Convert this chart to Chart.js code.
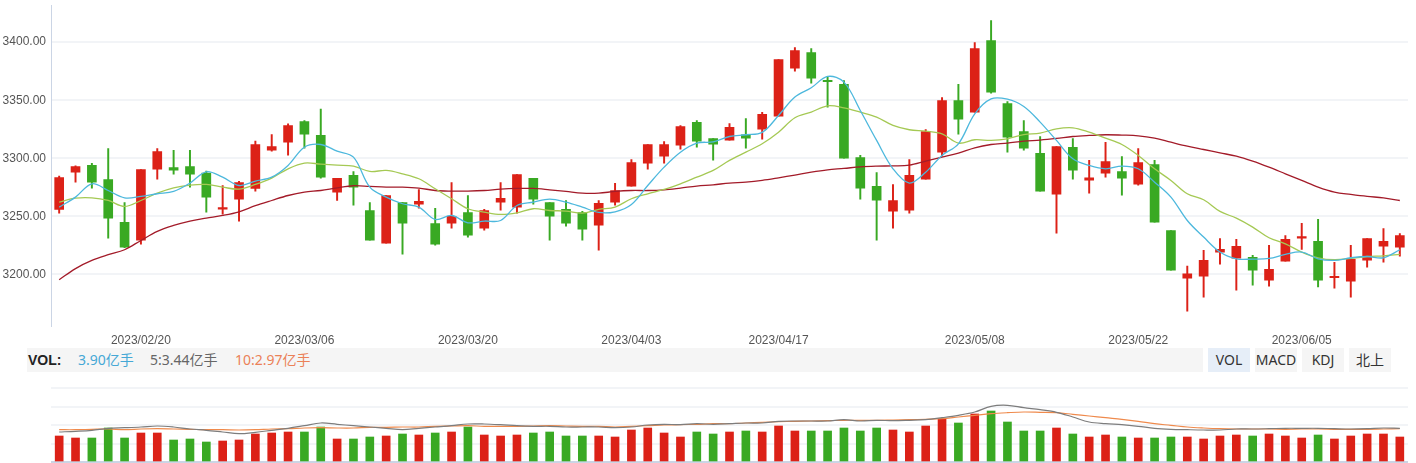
<!DOCTYPE html>
<html>
<head>
<meta charset="utf-8">
<script src="https://cdn.jsdelivr.net/npm/chart.js@4.4.1/dist/chart.umd.min.js"></script>
<style>
  body { margin: 0; background: #fff; font-family: "Noto Sans", "Noto Sans CJK SC", sans-serif; }
  #wrap { position: relative; width: 1416px; height: 463px; overflow: hidden; }
  #kline { position: absolute; left: 0; top: 0; }
  #vol { position: absolute; left: 0; top: 380px; }
  #volbar { position: absolute; left: 27px; top: 348px; width: 1176px; height: 24px; background: #f5f5f5; font-size: 14px; line-height: 24px; }
  #volbar span { position: absolute; top: 0; white-space: nowrap; }
  .btn { position: absolute; top: 348px; width: 42px; height: 24px; line-height: 24px; text-align: center; font-size: 14px; color: #333; background: #f5f5f5; }
</style>
</head>
<body>
<div id="wrap">
  <canvas id="kline" width="1416" height="348"></canvas>
  <div id="volbar">
    <span style="left:1px;font-weight:bold;color:#222;font-family:'Liberation Sans',Arial,sans-serif">VOL:</span>
    <span style="left:51px;color:#45a8d6">3.90亿手</span>
    <span style="left:123px;color:#666">5:3.44亿手</span>
    <span style="left:208px;color:#eb8158">10:2.97亿手</span>
  </div>
  <div class="btn" style="left:1208px;background:#e6eef8">VOL</div>
  <div class="btn" style="left:1255px">MACD</div>
  <div class="btn" style="left:1302px">KDJ</div>
  <div class="btn" style="left:1349px">北上</div>
  <canvas id="vol" width="1416" height="83"></canvas>
</div>
<script>
// trading days shown
var dates = ['2023/02/13','2023/02/14','2023/02/15','2023/02/16','2023/02/17',
  '2023/02/20','2023/02/21','2023/02/22','2023/02/23','2023/02/24',
  '2023/02/27','2023/02/28','2023/03/01','2023/03/02','2023/03/03',
  '2023/03/06','2023/03/07','2023/03/08','2023/03/09','2023/03/10',
  '2023/03/13','2023/03/14','2023/03/15','2023/03/16','2023/03/17',
  '2023/03/20','2023/03/21','2023/03/22','2023/03/23','2023/03/24',
  '2023/03/27','2023/03/28','2023/03/29','2023/03/30','2023/03/31',
  '2023/04/03','2023/04/04','2023/04/06','2023/04/07',
  '2023/04/10','2023/04/11','2023/04/12','2023/04/13','2023/04/14',
  '2023/04/17','2023/04/18','2023/04/19','2023/04/20','2023/04/21',
  '2023/04/24','2023/04/25','2023/04/26','2023/04/27','2023/04/28',
  '2023/05/04','2023/05/05',
  '2023/05/08','2023/05/09','2023/05/10','2023/05/11','2023/05/12',
  '2023/05/15','2023/05/16','2023/05/17','2023/05/18','2023/05/19',
  '2023/05/22','2023/05/23','2023/05/24','2023/05/25','2023/05/26',
  '2023/05/29','2023/05/30','2023/05/31','2023/06/01','2023/06/02',
  '2023/06/05','2023/06/06','2023/06/07','2023/06/08','2023/06/09',
  '2023/06/12','2023/06/13'];
var tickDates = ['2023/02/20','2023/03/06','2023/03/20','2023/04/03','2023/04/17','2023/05/08','2023/05/22','2023/06/05'];

var open = [3256.0,3288.1,3293.9,3281.8,3244.8,3229.6,3290.7,3292.1,3293.0,3287.3,
  3256.3,3264.9,3274.0,3307.1,3313.9,3331.7,3319.7,3270.9,3285.3,3255.1,
  3227.0,3262.0,3260.6,3243.9,3244.2,3253.4,3239.9,3262.3,3258.0,3282.7,
  3262.0,3256.0,3253.4,3242.5,3262.3,3276.1,3295.9,3301.9,3311.4,3330.9,
  3317.1,3315.7,3320.3,3325.1,3336.3,3377.6,3391.1,3366.2,3363.6,3300.7,
  3275.8,3254.6,3255.4,3282.1,3305.3,3349.8,3339.8,3401.4,3347.2,3323.1,
  3304.2,3269.2,3309.4,3281.2,3287.3,3288.7,3277.8,3294.7,3237.9,3196.9,
  3198.6,3219.3,3214.1,3214.7,3195.2,3211.5,3231.3,3228.5,3197.2,3194.3,
  3212.4,3224.4,3223.6];
var close = [3283.5,3293.0,3279.5,3248.5,3223.6,3290.4,3305.9,3289.8,3286.4,3266.6,
  3257.7,3279.2,3311.9,3310.2,3328.3,3320.8,3283.8,3282.7,3275.2,3229.6,
  3268.0,3244.2,3262.9,3226.2,3250.0,3233.9,3255.1,3265.5,3286.1,3264.9,
  3250.3,3244.2,3239.1,3261.2,3272.3,3296.4,3311.9,3311.9,3327.4,3314.8,
  3312.2,3326.6,3317.4,3337.8,3385.1,3392.8,3369.0,3365.9,3300.2,3274.4,
  3264.0,3263.7,3285.3,3323.1,3349.8,3333.7,3394.5,3357.0,3318.2,3308.8,
  3271.8,3310.2,3289.8,3283.2,3297.3,3282.9,3296.4,3245.1,3203.8,3200.6,
  3212.1,3221.6,3224.2,3203.8,3204.4,3230.2,3231.9,3195.2,3197.8,3213.0,
  3231.0,3228.5,3233.6];
var high = [3284.7,3293.5,3295.6,3308.5,3262.0,3290.4,3308.5,3306.8,3306.8,3289.0,
  3276.6,3280.1,3314.8,3320.5,3329.7,3332.6,3342.3,3282.7,3288.7,3262.0,
  3268.0,3262.0,3273.2,3256.9,3279.2,3268.0,3256.0,3279.2,3286.1,3282.7,
  3262.0,3263.7,3254.3,3263.7,3278.4,3299.0,3311.9,3314.5,3328.3,3332.6,
  3317.1,3330.0,3334.3,3339.5,3385.1,3395.4,3394.5,3370.5,3367.0,3302.5,
  3287.8,3277.5,3299.0,3324.8,3352.4,3363.6,3399.7,3418.6,3348.9,3332.6,
  3318.8,3310.2,3317.1,3298.2,3313.7,3301.6,3308.5,3298.2,3237.9,3207.2,
  3220.7,3231.0,3230.2,3216.4,3225.0,3233.6,3244.0,3247.4,3210.4,3225.0,
  3231.0,3239.6,3235.3];
var low = [3252.8,3279.5,3274.4,3231.3,3223.0,3226.2,3282.1,3286.4,3275.2,3253.7,
  3252.0,3245.9,3271.8,3306.2,3302.8,3308.8,3283.0,3263.7,3259.7,3229.6,
  3227.0,3217.6,3257.1,3225.3,3239.9,3232.2,3238.2,3255.4,3252.8,3260.6,
  3229.6,3241.6,3229.6,3221.0,3259.7,3276.1,3290.7,3295.9,3307.9,3309.6,
  3298.5,3315.7,3308.8,3316.5,3336.3,3375.0,3364.7,3344.1,3300.2,3264.9,
  3229.6,3239.9,3252.8,3282.1,3301.9,3320.8,3339.8,3356.1,3305.3,3307.1,
  3271.8,3235.6,3282.1,3270.0,3283.8,3268.3,3276.9,3245.1,3203.8,3168.5,
  3180.5,3208.9,3186.6,3190.9,3190.0,3211.5,3221.6,3189.2,3188.3,3180.5,
  3206.4,3210.7,3215.8];

var ma5 = [3258.0,3266.6,3278.1,3272.3,3266.0,3267.2,3269.5,3271.5,3278.7,3288.4,
  3283.8,3276.6,3280.4,3283.8,3293.9,3309.6,3311.9,3306.2,3301.0,3275.2,
  3266.6,3260.9,3258.0,3247.4,3250.8,3244.5,3246.0,3246.5,3259.4,3262.3,
  3264.9,3262.3,3258.0,3253.4,3254.0,3260.3,3276.6,3292.4,3305.3,3313.1,
  3314.2,3318.8,3320.3,3322.3,3336.9,3352.7,3360.7,3370.5,3365.6,3341.2,
  3315.4,3291.0,3278.7,3288.1,3302.5,3312.5,3338.3,3351.2,3350.9,3344.6,
  3331.2,3315.4,3299.6,3293.9,3291.0,3293.3,3291.0,3279.5,3266.6,3246.5,
  3232.2,3219.3,3213.5,3213.3,3213.8,3217.3,3219.3,3213.5,3212.1,3214.4,
  3215.5,3214.4,3221.3];
var ma10 = [3262.3,3265.7,3266.0,3263.7,3258.6,3263.7,3270.0,3274.6,3276.9,3277.5,
  3275.2,3273.5,3277.5,3283.0,3291.0,3295.9,3295.0,3294.1,3293.3,3288.7,
  3289.6,3286.7,3282.4,3273.8,3265.2,3256.6,3253.7,3251.7,3253.1,3256.6,
  3255.1,3254.6,3252.8,3256.0,3258.0,3265.2,3269.5,3273.2,3278.1,3283.8,
  3289.6,3298.2,3305.3,3312.5,3322.5,3334.9,3339.8,3345.2,3343.5,3339.8,
  3335.5,3328.3,3324.6,3323.4,3321.1,3313.1,3316.0,3315.4,3316.8,3320.5,
  3321.7,3325.4,3326.3,3322.5,3317.4,3311.9,3302.5,3291.0,3281.0,3269.5,
  3264.3,3254.3,3248.5,3240.8,3231.6,3226.4,3219.3,3214.4,3212.7,3213.8,
  3215.5,3216.1,3217.3];
var ma30 = [3195.5,3205.1,3212.1,3217.0,3221.3,3229.3,3237.1,3242.2,3246.0,3248.5,
  3250.8,3254.0,3259.2,3263.7,3268.0,3270.9,3272.3,3274.6,3276.4,3275.8,
  3275.2,3275.2,3274.4,3272.3,3271.8,3271.8,3272.3,3273.5,3274.1,3274.1,
  3272.9,3271.5,3270.0,3270.0,3271.5,3272.3,3272.3,3272.9,3274.4,3276.1,
  3277.2,3278.7,3279.5,3281.0,3283.2,3285.6,3288.1,3290.1,3291.3,3292.7,
  3293.3,3293.5,3294.1,3297.6,3301.0,3304.5,3309.1,3311.9,3313.1,3314.8,
  3315.7,3317.1,3318.8,3319.7,3320.3,3320.0,3319.4,3317.4,3313.9,3310.5,
  3307.6,3304.7,3301.9,3297.6,3292.4,3286.7,3281.0,3275.2,3270.9,3268.9,
  3267.2,3266.0,3263.7];

// volume, 亿手
var volume = [2.6,2.4,2.4,3.4,2.4,2.9,2.9,2.2,2.3,2.0,
  2.1,2.2,2.8,2.9,3.0,3.0,3.5,2.3,2.3,2.5,
  2.6,2.8,2.7,2.9,3.0,3.5,2.7,2.6,2.7,2.9,
  3.0,2.6,2.6,2.6,2.5,3.2,3.4,2.9,2.5,3.0,
  2.8,3.0,3.1,3.0,3.6,3.1,3.1,3.1,3.4,3.1,
  3.4,3.2,3.0,3.6,4.3,3.9,4.8,5.1,4.0,3.1,
  3.1,3.4,2.8,2.5,2.7,2.5,2.4,2.4,2.5,2.5,
  2.3,2.6,2.7,2.6,2.8,2.6,2.4,2.7,2.3,2.6,
  2.8,2.8,2.5];
var volMa5 = [3.00,3.07,3.17,3.37,3.43,3.50,3.60,3.50,3.30,3.17,
  3.00,2.83,2.97,3.17,3.37,3.63,3.90,3.77,3.63,3.50,
  3.37,3.23,3.37,3.50,3.63,3.80,3.80,3.73,3.63,3.57,
  3.57,3.50,3.50,3.50,3.43,3.50,3.70,3.77,3.73,3.83,
  3.77,3.83,3.90,3.90,4.07,4.10,4.10,4.10,4.23,4.10,
  4.17,4.13,4.17,4.23,4.43,4.67,5.00,5.57,5.67,5.43,
  5.23,4.97,4.50,4.00,3.83,3.73,3.57,3.37,3.27,3.23,
  3.20,3.20,3.30,3.30,3.33,3.37,3.37,3.37,3.33,3.30,
  3.33,3.40,3.37];
var volMa10 = [3.23,3.23,3.27,3.30,3.23,3.30,3.33,3.30,3.27,3.23,
  3.23,3.20,3.23,3.30,3.33,3.40,3.43,3.40,3.40,3.47,
  3.47,3.50,3.50,3.57,3.60,3.63,3.57,3.57,3.57,3.60,
  3.63,3.60,3.57,3.57,3.50,3.57,3.63,3.70,3.73,3.77,
  3.83,3.83,3.90,3.97,4.03,4.07,4.10,4.13,4.17,4.17,
  4.17,4.20,4.23,4.27,4.33,4.50,4.67,4.83,4.93,5.00,
  4.97,4.93,4.77,4.60,4.43,4.27,4.07,3.83,3.67,3.50,
  3.40,3.33,3.30,3.30,3.30,3.27,3.30,3.30,3.27,3.27,
  3.27,3.30,3.33];

var RED = '#dc2117', GREEN = '#39a923';
var candleColors = open.map(function(o, i) { return close[i] >= o ? RED : GREEN; });
var fixWidth = function(scale) {
  scale.width = 51;
  scale.paddingTop = 0;
  scale.paddingBottom = 0;
};

new Chart(document.getElementById('kline'), {
  type: 'bar',
  data: {
    labels: dates,
    datasets: [
      { type: 'line', data: ma5, borderColor: '#4db8dd', borderWidth: 1.3, pointRadius: 0, tension: 0.35, order: 0 },
      { type: 'line', data: ma10, borderColor: '#a5c954', borderWidth: 1.3, pointRadius: 0, tension: 0.35, order: 0 },
      { type: 'line', data: ma30, borderColor: '#a31b29', borderWidth: 1.3, pointRadius: 0, tension: 0.35, order: 0 },
      { data: low.map(function(l, i) { return [l, high[i]]; }), backgroundColor: candleColors,
        barThickness: 1.3, grouped: false, order: 2 },
      { data: open.map(function(o, i) { return [o, close[i]]; }), backgroundColor: candleColors,
        barThickness: 9, minBarLength: 1.5, grouped: false, order: 1 }
    ]
  },
  options: {
    responsive: false,
    animation: false,
    layout: { padding: { top: 5, right: 8, left: 0, bottom: 0 } },
    plugins: { legend: { display: false }, tooltip: { enabled: false } },
    scales: {
      x: {
        grid: { display: false },
        border: { display: false },
        ticks: {
          autoSkip: false, maxRotation: 0, padding: 0, color: '#555',
          font: { size: 12, family: "'Liberation Sans', Arial, sans-serif" },
          callback: function(v, i) { return tickDates.indexOf(dates[i]) >= 0 ? dates[i] : ''; }
        }
      },
      y: {
        min: 3156, max: 3432,
        afterFit: fixWidth,
        afterBuildTicks: function(scale) {
          scale.ticks = scale.ticks.filter(function(t) { return t.value % 50 === 0; });
        },
        grid: { color: '#f2f4f7', lineWidth: 2, drawTicks: false },
        border: { color: '#cbd5e5', width: 1 },
        ticks: {
          stepSize: 50, padding: 5, color: '#555',
          font: { size: 12, family: "'Liberation Sans', Arial, sans-serif" },
          callback: function(v) { return v.toFixed(2); }
        }
      }
    }
  }
});

new Chart(document.getElementById('vol'), {
  type: 'bar',
  data: {
    labels: dates,
    datasets: [
      { type: 'line', data: volMa5, borderColor: '#7d7d7d', borderWidth: 1.2, pointRadius: 0, tension: 0.35, order: 0 },
      { type: 'line', data: volMa10, borderColor: '#ef8a4c', borderWidth: 1.2, pointRadius: 0, tension: 0.35, order: 0 },
      { data: volume, backgroundColor: candleColors, barThickness: 8, order: 1 }
    ]
  },
  options: {
    responsive: false,
    animation: false,
    layout: { padding: { top: 8, right: 8, left: 0, bottom: 1 } },
    plugins: { legend: { display: false }, tooltip: { enabled: false } },
    scales: {
      x: { display: false },
      y: {
        min: 0, max: 7.4,
        afterFit: fixWidth,
        grid: {
          drawTicks: false,
          color: function(c) { return c.tick && c.tick.value === 0 ? '#cbd5e5' : '#f2f4f7'; },
          lineWidth: 2
        },
        border: { display: false },
        ticks: { display: false, stepSize: 1.85 }
      }
    }
  }
});
</script>
</body>
</html>
